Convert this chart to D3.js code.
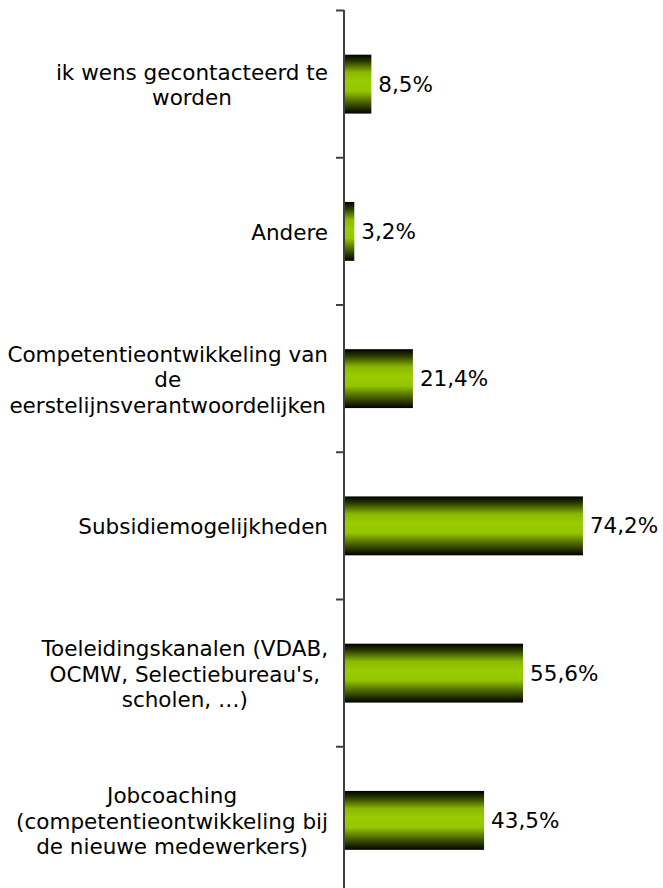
<!DOCTYPE html>
<html>
<head>
<meta charset="utf-8">
<script src="https://cdn.jsdelivr.net/npm/d3@7/dist/d3.min.js"></script>
<style>
html,body{margin:0;padding:0;background:#fff;}
svg{display:block;}
</style>
</head>
<body>
<svg id="chart" width="663" height="888"></svg>
<script>
const categories = [
  "ik wens gecontacteerd te|worden",
  "Andere",
  "Competentieontwikkeling van|de|eerstelijnsverantwoordelijken",
  "Subsidiemogelijkheden",
  "Toeleidingskanalen (VDAB,|OCMW, Selectiebureau's,|scholen, …)",
  "Jobcoaching|(competentieontwikkeling bij|de nieuwe medewerkers)"
];
const values = [8.5, 3.2, 21.4, 74.2, 55.6, 43.5];
const valueLabels = ["8,5%", "3,2%", "21,4%", "74,2%", "55,6%", "43,5%"];
const titleText = "(meerdere antwoorden)";

const svg = d3.select("#chart");
const axisX = 344;
const fontFam = "Tahoma, 'DejaVu Sans', Verdana, sans-serif";
const fs = 21.5;

const y = d3.scaleBand().domain(categories).range([10.5, 894]).paddingInner(0.6).paddingOuter(0.3);
const x = d3.scaleLinear().domain([0, 100]).range([axisX, axisX + 322]);

const defs = svg.append("defs");
const grad = defs.append("linearGradient").attr("id", "barGrad")
  .attr("x1", 0).attr("y1", 0).attr("x2", 0).attr("y2", 1);
[[0, "#000000"], [0.12, "#2e3d00"], [0.3, "#8ab800"], [0.45, "#99cc00"], [0.62, "#95c600"], [0.8, "#4d6600"], [1, "#000000"]]
  .forEach(([o, c]) => grad.append("stop").attr("offset", o).attr("stop-color", c));

// title (mostly clipped at top, as in the reference)
svg.append("text").attr("x", 397).attr("y", -4).attr("text-anchor", "middle")
  .attr("font-family", fontFam).attr("font-size", 20).attr("fill", "#1e9be8").text(titleText);

// bars
svg.selectAll("rect.bar").data(values).join("rect").attr("class", "bar")
  .attr("x", x(0) + 1)
  .attr("y", (d, i) => y(categories[i]))
  .attr("width", d => x(d) - x(0) - 1)
  .attr("height", y.bandwidth())
  .attr("fill", "url(#barGrad)");

// value labels
svg.selectAll("text.val").data(values).join("text").attr("class", "val")
  .attr("x", d => x(d) + 7)
  .attr("y", (d, i) => y(categories[i]) + y.bandwidth() / 2)
  .attr("dy", "0.35em")
  .attr("font-family", fontFam).attr("font-size", fs).attr("fill", "#000")
  .text((d, i) => valueLabels[i]);

// category labels: block right-aligned, lines centered within block
const step = y.step();
const bandTop = 10.5;
categories.forEach((c, i) => {
  const lines = c.split("|");
  const g = svg.append("g");
  const lh = 25.5;
  const cy = y(c) + y.bandwidth() / 2 + 1;
  const texts = lines.map((l, j) => g.append("text")
    .attr("y", cy + (j - (lines.length - 1) / 2) * lh)
    .attr("dy", "0.35em")
    .attr("text-anchor", "middle")
    .attr("font-family", fontFam).attr("font-size", fs).attr("fill", "#000")
    .text(l));
  const w = d3.max(texts, t => t.node().getComputedTextLength());
  texts.forEach(t => t.attr("x", 328 - w / 2));
});

// axis
const axis = svg.append("g").attr("stroke", "#404040").attr("stroke-width", 2);
axis.append("line").attr("x1", axisX).attr("x2", axisX).attr("y1", 10).attr("y2", 888);
const tickYs = d3.range(categories.length + 1).map(k => bandTop + k * step);
axis.selectAll("line.tick").data(tickYs).join("line").attr("class", "tick")
  .attr("x1", axisX - 8).attr("x2", axisX).attr("y1", d => d).attr("y2", d => d);
</script>
</body>
</html>
